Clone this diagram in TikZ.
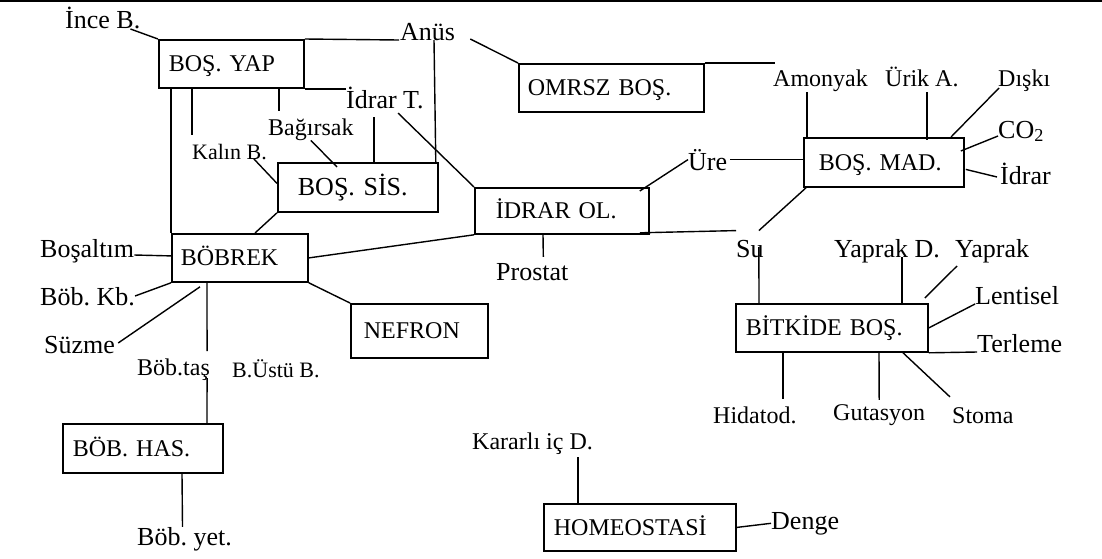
\documentclass[tikz,border=0pt]{standalone}
\usepackage{fontspec}
\setmainfont{Liberation Serif}
\frenchspacing
\begin{document}
\begin{tikzpicture}[x=1pt,y=-1pt,
  box/.style={draw,line width=1.8pt,anchor=north west,inner ysep=0pt,text height=16pt,text depth=0pt,align=left,font=\fontsize{24}{28}\selectfont},
  lbl/.style={anchor=base west,inner sep=0pt,font=\fontsize{26}{30}\selectfont},
  lbm/.style={lbl,font=\fontsize{24}{28}\selectfont},
  lbs/.style={lbl,font=\fontsize{22}{26}\selectfont},
  lnk/.style={line width=1.4pt}]
\useasboundingbox (0,0) rectangle (1102,558);
\draw [line width=2.4pt] (0,1.2) -- (1102,1.2);

% kutular
\node[box,inner xsep=10pt,text width=125pt,minimum height=48pt] (bosyap) at (158,39) {BOŞ. YAP};
\node[box,inner xsep=20pt,text width=120pt,minimum height=49pt,text height=17pt,font=\fontsize{26}{30}\selectfont] (bossis) at (277,162) {BOŞ. SİS.};
\node[box,inner xsep=9pt,text width=167pt,minimum height=48pt] (omrsz) at (518,63) {OMRSZ BOŞ.};
\node[box,inner xsep=21pt,text width=132pt,minimum height=46pt] (idrarol) at (474,187) {İDRAR OL.};
\node[box,inner xsep=15pt,text width=130pt,minimum height=49pt] (bosmad) at (803,137) {BOŞ. MAD.};
\node[box,inner xsep=9pt,text width=118pt,minimum height=48pt] (bobrek) at (171,233) {BÖBREK};
\node[box,inner xsep=13pt,text width=111pt,minimum height=54pt] (nefron) at (350,303) {NEFRON};
\node[box,inner xsep=10pt,text width=172pt,minimum height=48pt] (bitkide) at (735,303) {BİTKİDE BOŞ.};
\node[box,inner xsep=10pt,text width=140pt,minimum height=49pt] (bobhas) at (62,423) {BÖB. HAS.};
\node[box,inner xsep=10pt,text width=172pt,minimum height=47pt] (homeo) at (543,503) {HOMEOSTASİ};

% etiketler
\node[lbl] (inceb) at (65,28) {İnce B.};
\node[lbl] (anus) at (400,40) {Anüs};
\node[lbm] (bagirsak) at (268,135) {Bağırsak};
\node[lbs] (kalinb) at (192,159) {Kalın B.};
\node[lbl] (idrart) at (346,108) {İdrar T.};
\node[lbl] (bosaltim) at (40,257) {Boşaltım};
\node[lbl] (bobkb) at (40,305) {Böb. Kb.};
\node[lbl] (suzme) at (44,353) {Süzme};
\node[lbm] (bobtas) at (137,375) {Böb.taş};
\node[lbs] (bustu) at (232,377) {B.Üstü B.};
\node[lbl] (bobyet) at (137,545) {Böb. yet.};
\node[lbl] (prostat) at (496,280) {Prostat};
\node[lbl] (ure) at (688,170) {Üre};
\node[lbl] (su) at (736,257) {Su};
\node[lbm] (amonyak) at (773,86) {Amonyak};
\node[lbm] (urika) at (885,86) {Ürik A.};
\node[lbm] (diski) at (998,86) {Dışkı};
\node[lbl] (co2) at (998,138) {CO\textsubscript{2}};
\node[lbl] (idrar) at (1000,184) {İdrar};
\node[lbl] (yaprakd) at (834,257) {Yaprak D.};
\node[lbl] (yaprak) at (955,257) {Yaprak};
\node[lbl] (lentisel) at (975,304) {Lentisel};
\node[lbl] (terleme) at (977,352) {Terleme};
\node[lbm] (hidatod) at (713,423) {Hidatod.};
\node[lbm] (gutasyon) at (833,420) {Gutasyon};
\node[lbm] (stoma) at (952,423) {Stoma};
\node[lbm] (kararli) at (472,449) {Kararlı iç D.};
\node[lbl] (denge) at (771,529) {Denge};
\coordinate (omrend) at (775,63);

% baglantilar
\draw[lnk] ([shift={(-10pt,-1pt)}]inceb.base east) -- (bosyap.north west);
\draw[lnk] (bosyap.north east) -- ([xshift=-1pt]anus.base west);
\draw[lnk] ([xshift=15pt,yshift=1pt]anus.base east) -- (omrsz.north west);
\draw[lnk] (omrsz.north east) -- (omrend);
\draw[lnk] (bosyap.south east) -- (bosyap.south -| idrart.west);
\draw[lnk] (bobrek.north west |- bosyap.south) -- (bobrek.north west);
\draw[lnk] ([xshift=34pt]bosyap.south west) -- ([yshift=9pt]kalinb.north west);
\draw[lnk] ([xshift=121pt]bosyap.south west) -- ([shift={(11pt,7pt)}]bagirsak.north west);
\draw[lnk] (bagirsak.south) -- ([xshift=60pt,yshift=-5pt]bossis.north west);
\draw[lnk] ([xshift=-13pt]kalinb.base east) -- ([yshift=4pt]bossis.west);
\draw[lnk] ([shift={(28pt,-9pt)}]idrart.base west) -- ([xshift=97pt]bossis.north west);
\draw[lnk] ([xshift=34pt]anus.base west) -- ([xshift=-3pt]bossis.north east);
\draw[lnk] ([shift={(52pt,-5pt)}]idrart.base west) -- (idrarol.north west);
\draw[lnk] (bossis.south west) -- ([xshift=84pt]bobrek.north west);
\draw[lnk] ([yshift=2pt]bosaltim.base east) -- ([yshift=2pt]bobrek.west);
\draw[lnk] ([yshift=9pt]bobkb.base east) -- (bobrek.south west);
\draw[lnk] ([shift={(3pt,10pt)}]suzme.base east) -- ([shift={(29pt,-4pt)}]bobrek.south west);
\draw[lnk] ([xshift=36pt]bobrek.south west) -- ([shift={(-3pt,7pt)}]bobtas.north east);
\draw[lnk] ([shift={(-3pt,-3pt)}]bobtas.base east) -- ([xshift=145pt]bobhas.north west);
\draw[lnk] ([xshift=120pt]bobhas.south west) -- ([xshift=-2pt]bobyet.north);
\draw[lnk] (bobrek.east) -- (idrarol.south west);
\draw[lnk] (bobrek.south east) -- (nefron.north west);
\draw[lnk] ([xshift=69pt]idrarol.south west) -- ([shift={(11pt,6pt)}]prostat.north);
\draw[lnk] ([shift={(-10pt,2pt)}]idrarol.south east) -- ([yshift=9pt]su.north west);
\draw[lnk] ([shift={(-10pt,-4pt)}]idrarol.north east) -- (ure.west);
\draw[lnk] ([xshift=3pt]ure.east) -- (bosmad.west |- ure.east);
\draw[lnk] ([xshift=3pt]bosmad.south west) -- ([shift={(-5pt,9pt)}]su.north east);
\draw[lnk] ([shift={(-5pt,10pt)}]su.base east) -- ([xshift=24pt]bitkide.north west);
\draw[lnk] ([shift={(34pt,-6pt)}]amonyak.base west) -- ([xshift=4pt]bosmad.north west);
\draw[lnk] ([shift={(42pt,-6pt)}]urika.base west) -- ([shift={(124pt,-3pt)}]bosmad.north west);
\draw[lnk] ([shift={(1pt,-2pt)}]diski.base west) -- ([xshift=148pt]bosmad.north west);
\draw[lnk] ([yshift=2pt]co2.base west) -- ([shift={(-4pt,-14pt)}]bosmad.north east);
\draw[lnk] ([shift={(1pt,-7pt)}]bosmad.east) -- ([shift={(-3pt,7pt)}]idrar.base west);
\draw[lnk] ([xshift=68pt]yaprakd.base west) -- ([xshift=167pt]bitkide.north west);
\draw[lnk] ([shift={(2pt,-9pt)}]yaprak.base west) -- ([shift={(-4pt,5pt)}]bitkide.north east);
\draw[lnk] (lentisel.base west) -- (bitkide.east);
\draw[lnk] (bitkide.south east) -- (terleme.base west);
\draw[lnk] ([xshift=48pt]bitkide.south west) -- ([shift={(70pt,7pt)}]hidatod.north west);
\draw[lnk] ([xshift=144pt]bitkide.south west) -- ([yshift=4pt]gutasyon.north);
\draw[lnk] ([xshift=168pt]bitkide.south west) -- ([shift={(-2pt,10pt)}]stoma.north west);
\draw[lnk] ([shift={(106pt,-8pt)}]kararli.base west) -- ([xshift=35pt]homeo.north west);
\draw[lnk] (homeo.east) -- (denge.west);
\end{tikzpicture}
\end{document}
